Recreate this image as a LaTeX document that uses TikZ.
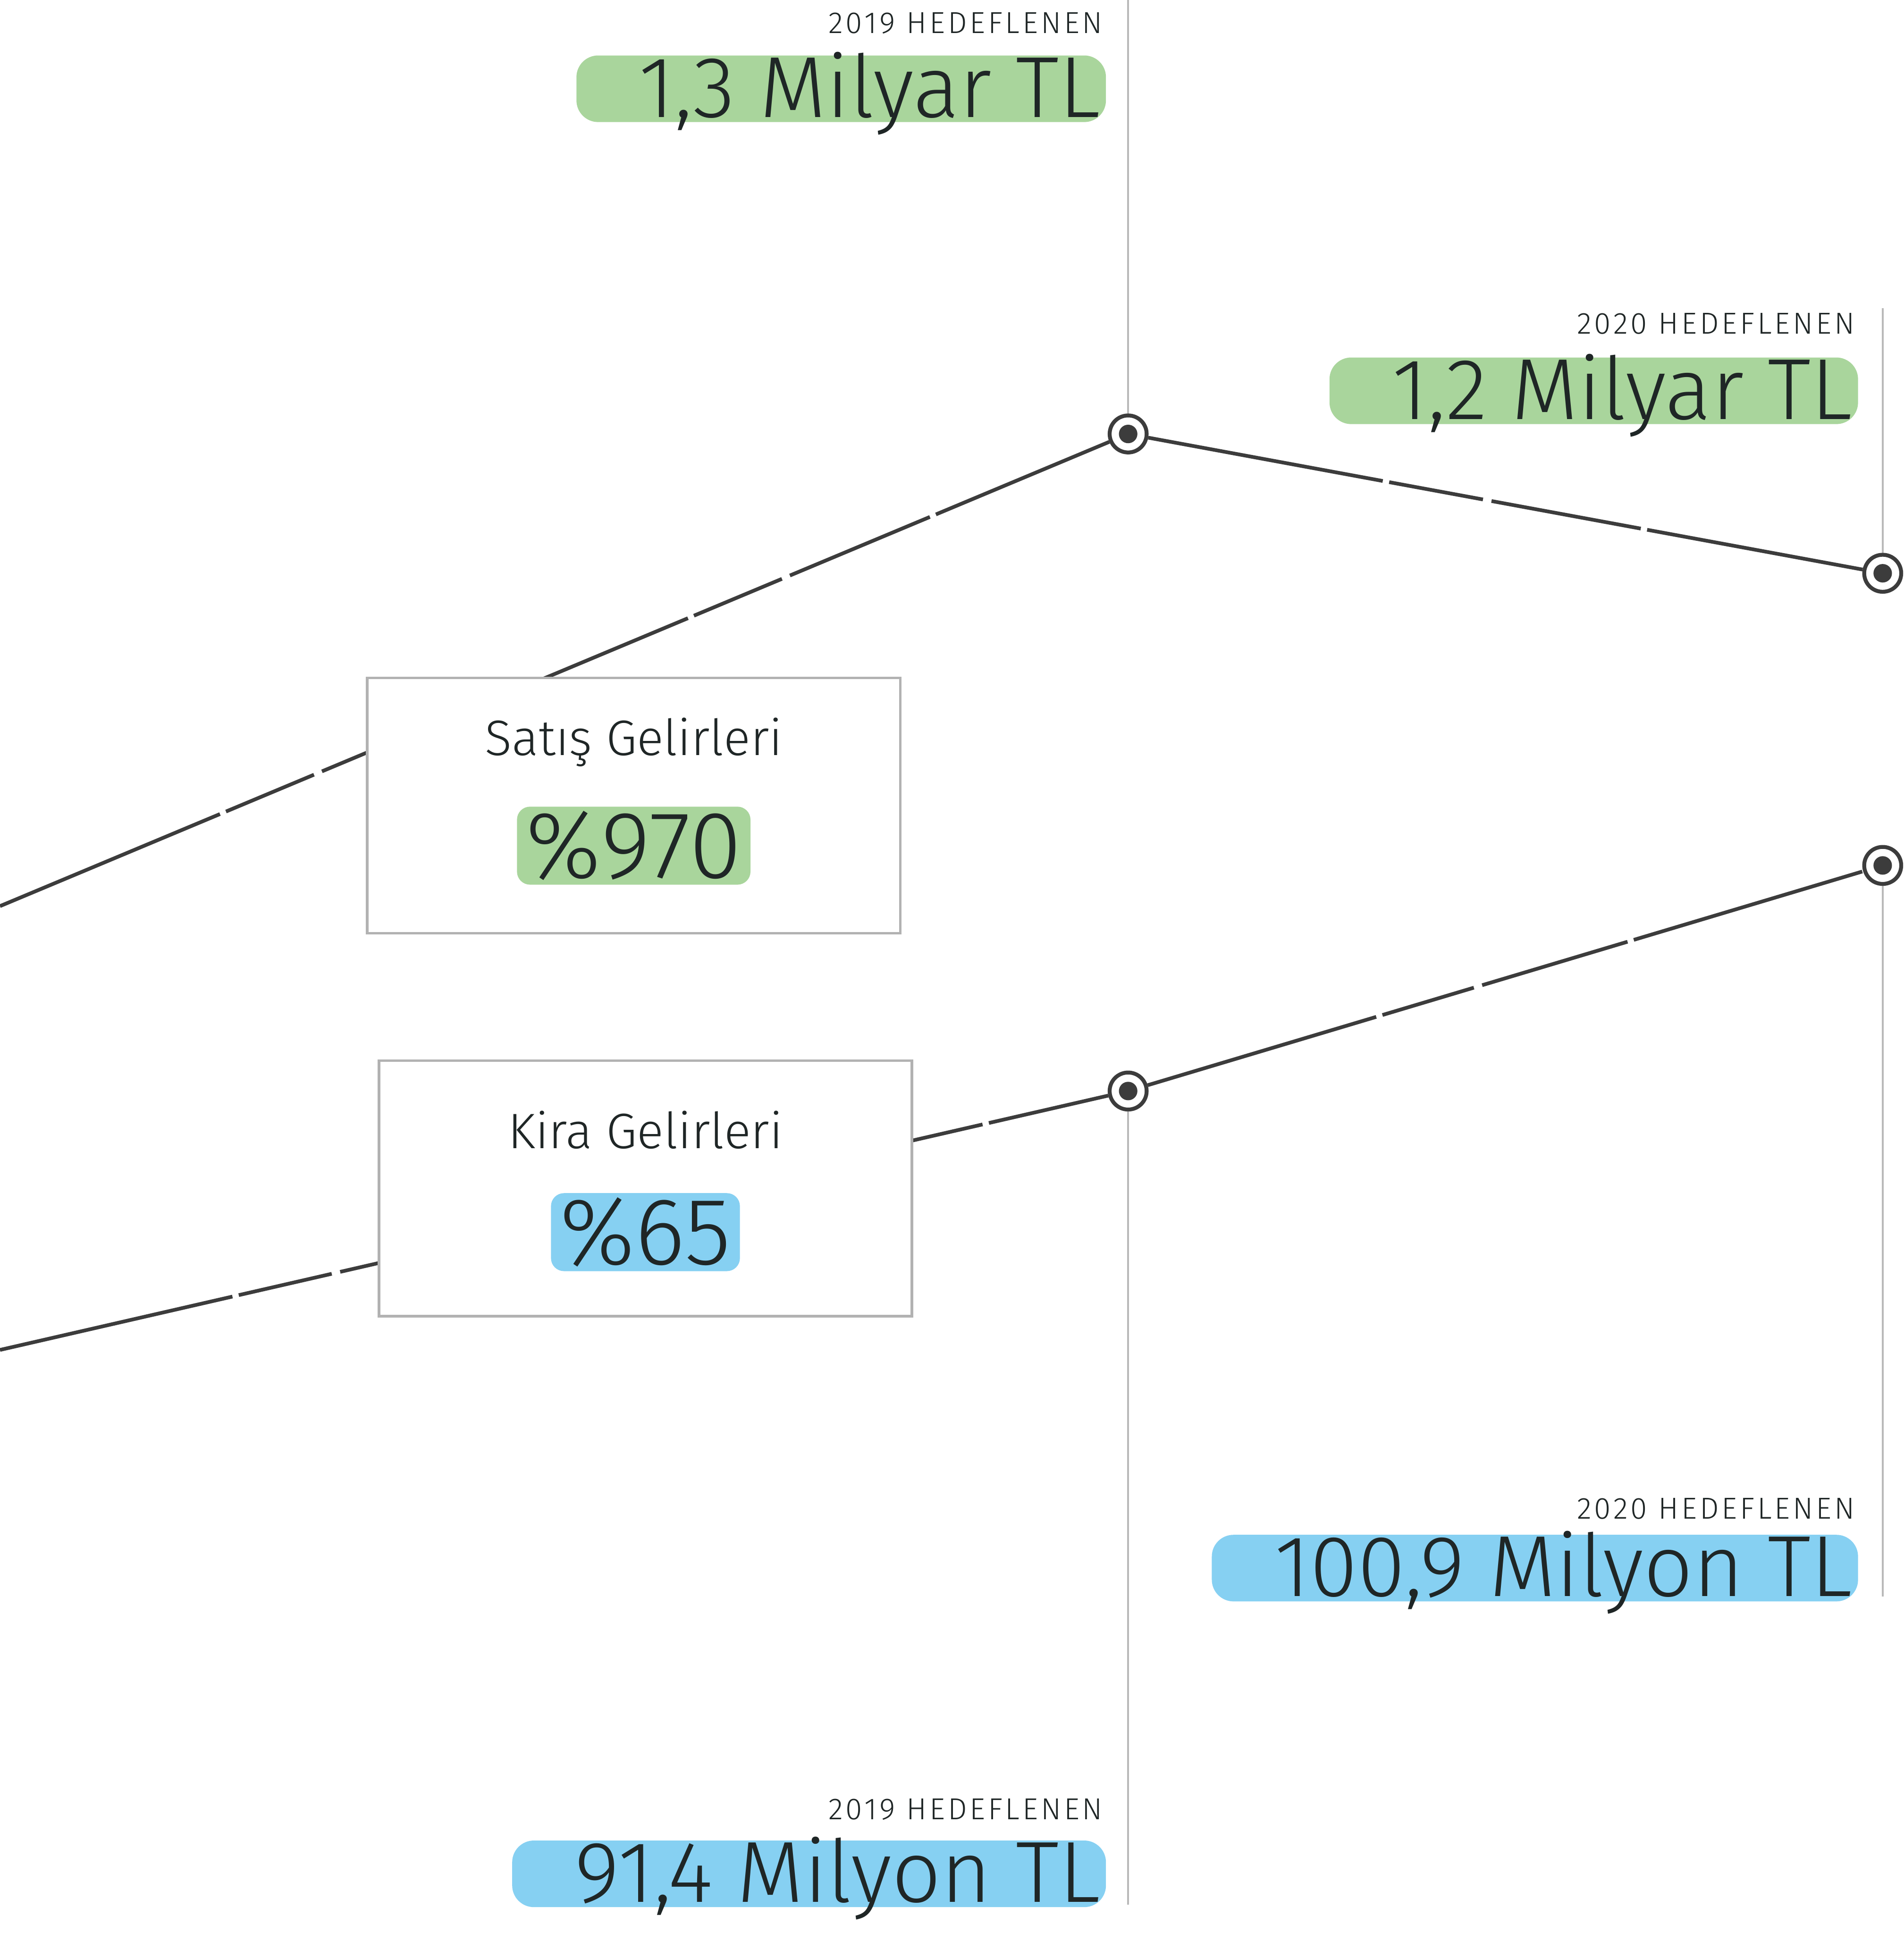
\documentclass[tikz,border=0pt]{standalone}
\usepackage{fontspec}
\setmainfont{Fira Sans Light}
\newfontfamily\hdrfont[LetterSpace=9]{Fira Sans Light}
\usepackage{tikz}
\usetikzlibrary{positioning}
\pgfdeclarelayer{background}
\pgfsetlayers{background,main}
\definecolor{brushgreen}{HTML}{A9D59C}
\definecolor{brushblue}{HTML}{86D0F2}
\definecolor{inkdark}{HTML}{1F2626}
\definecolor{linedark}{HTML}{3C3C3C}
\tikzset{
  guide/.style={gray!55, line width=0.4pt},
  trend/.style={linedark, line width=0.85pt, dash pattern=on 55pt off 1.5pt on 22pt off 2pt on 35pt off 1.5pt},
  dot/.style={circle, draw=linedark, line width=0.9pt, fill=white, minimum size=0.3cm, inner sep=0pt,
    path picture={\fill[linedark] (path picture bounding box.center) circle (0.075cm);}},
  ratebox/.style={draw=gray!60, line width=0.6pt, fill=white, minimum width=4.32cm, minimum height=2.07cm},
  boxtitle/.style={text=inkdark, font=\fontsize{11.5}{14}\selectfont},
  rate/.style={text=inkdark, font=\fontsize{22}{26}\selectfont, inner xsep=2pt, inner ysep=1pt, rounded corners=3pt},
  hdr/.style={text=inkdark, font=\hdrfont\fontsize{7}{8}\selectfont, anchor=base east, inner sep=0pt},
  amount/.style={text=inkdark, font=\fontsize{20}{24}\selectfont, anchor=base east, inner sep=0pt},
}
\newcommand{\brushunder}[2]{%
  \fill[#2, rounded corners=5pt] ([xshift=-0.5cm, yshift=-0.04cm]#1.base west) rectangle ([xshift=0.04cm, yshift=0.5cm]#1.base east);}

\begin{document}
\begin{tikzpicture}[x=0.01cm, y=0.01cm]
\useasboundingbox (0,0) rectangle (1544,-1568);
% markers
\node[dot] (s19) at (915,-352) {};
\node[dot] (s20) at (1527,-465) {};
\node[dot] (k19) at (915,-885) {};
\node[dot] (k20) at (1527,-702) {};
% boxes
\node[ratebox] (satis) at (514,-653.5) {};
\node[boxtitle] (satisT) at ([yshift=-0.53cm]satis.north) {Satış Gelirleri};
\node[rate, fill=brushgreen] (satisV) at ([yshift=-1.37cm]satis.north) {\%970};
\node[ratebox] (kira) at (523.5,-964) {};
\node[boxtitle] (kiraT) at ([yshift=-0.57cm]kira.north) {Kira Gelirleri};
\node[rate, fill=brushblue] (kiraV) at ([yshift=-1.40cm]kira.north) {\%65};
% targets
\node[amount] (s19V) at (893,-95) {1,3 Milyar TL};
\node[hdr] (s19H) at (895,-27) {2019 HEDEFLENEN};
\node[amount] (s20V) at (1503,-340) {1,2 Milyar TL};
\node[hdr] (s20H) at (1505,-271) {2020 HEDEFLENEN};
\node[amount] (k20V) at (1503,-1295) {100,9 Milyon TL};
\node[hdr] (k20H) at (1505,-1232) {2020 HEDEFLENEN};
\node[amount] (k19V) at (893,-1543) {91,4 Milyon TL};
\node[hdr] (k19H) at (895,-1476) {2019 HEDEFLENEN};
% line ends
\coordinate (sIn) at (0,-735);
\coordinate (kIn) at (0,-1095);
\coordinate (s19top) at (915,0);
\coordinate (s20top) at (1527,-250);
\coordinate (k19bot) at (915,-1545);
\coordinate (k20bot) at (1527,-1295);
\begin{pgfonlayer}{background}
\draw[guide] (s19top) -- (s19);
\draw[guide] (s20top) -- (s20);
\draw[guide] (k19) -- (k19bot);
\draw[guide] (k20) -- (k20bot);
\draw[trend] (sIn) -- (s19) -- (s20);
\draw[trend] (kIn) -- (k19) -- (k20);
\brushunder{s19V}{brushgreen}
\brushunder{s20V}{brushgreen}
\brushunder{k20V}{brushblue}
\brushunder{k19V}{brushblue}
\end{pgfonlayer}
\end{tikzpicture}
\end{document}
